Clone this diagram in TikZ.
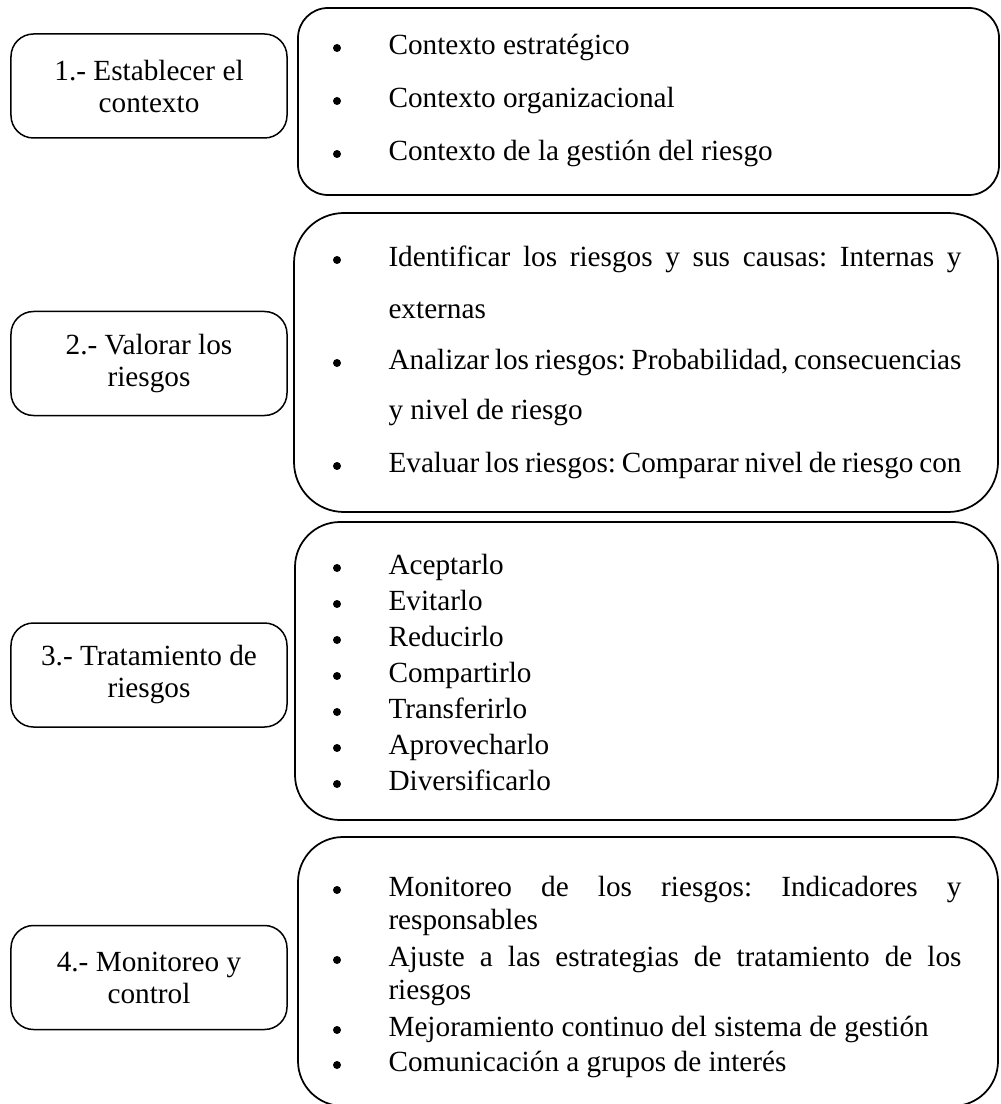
\documentclass[tikz,border=0pt]{standalone}
\usepackage{fontspec}
\setmainfont{Liberation Serif}
\newcommand\just[1]{\makebox[229.2pt][s]{\frenchspacing\spaceskip=0.05em plus 1em\relax #1}}

\begin{document}
\begin{tikzpicture}[x=0.4pt,y=-0.4pt]
\tikzset{paso/.style={draw,line width=0.6pt,rounded corners=9pt,minimum width=110.4pt,minimum height=41.6pt,align=center,inner sep=0pt,font=\fontsize{11.7}{12.8}\selectfont}}
\tikzset{caja/.style={draw,line width=0.7pt,inner sep=0pt}}
\tikzset{linea/.style={anchor=base west,inner sep=0pt,font=\fontsize{11.7}{14}\selectfont}}
\tikzset{bala/.style={circle,fill,inner sep=0pt,minimum size=3.2pt}}
\useasboundingbox (0,0) rectangle (1000,1104);
\clip (0,0) rectangle (1000,1104);
\node[paso] (p1) at (149,86) {1.- Establecer el\\contexto};
\node[paso] (p2) at (149,363.5) {2.- Valorar los\\riesgos};
\node[paso] (p3) at (149,675) {3.- Tratamiento de\\riesgos};
\node[paso] (p4) at (149,977.5) {4.- Monitoreo y\\control};
\node[caja,rounded corners=12pt,minimum width=280.4pt,minimum height=74.8pt] (c1) at (648.5,101.5) {};
\node[caja,rounded corners=20pt,minimum width=281.6pt,minimum height=119.6pt] (c2) at (646,362.5) {};
\node[caja,rounded corners=18pt,minimum width=281.2pt,minimum height=119.2pt] (c3) at (646.5,671) {};
\node[caja,rounded corners=18pt,minimum width=280pt,minimum height=107.6pt] (c4) at (648,971.5) {};
\foreach \y/\b/\t [count=\i] in {
  48/1/Contexto estratégico,
  101/1/Contexto organizacional,
  154/1/Contexto de la gestión del riesgo,
  260/1/{\just{Identificar los riesgos y sus causas: Internas y}},
  312/0/externas,
  363/1/{\just{Analizar los riesgos: Probabilidad, consecuencias}},
  413/0/y nivel de riesgo,
  466/1/{\just{Evaluar los riesgos: Comparar nivel de riesgo con}},
  568/1/Aceptarlo,
  604/1/Evitarlo,
  640/1/Reducirlo,
  676/1/Compartirlo,
  712/1/Transferirlo,
  748/1/Aprovecharlo,
  784/1/Diversificarlo,
  890/1/{\just{Monitoreo de los riesgos: Indicadores y}},
  923/0/responsables,
  960/1/{\just{Ajuste a las estrategias de tratamiento de los}},
  993/0/riesgos,
  1030/1/Mejoramiento continuo del sistema de gestión,
  1065/1/Comunicación a grupos de interés} {
  \node[linea] (l\i) at (388,\y+6.5) {\t};
  \ifnum\b=1 \node[bala] (b\i) at (337,\y) {};\fi
}
\end{tikzpicture}
\end{document}
